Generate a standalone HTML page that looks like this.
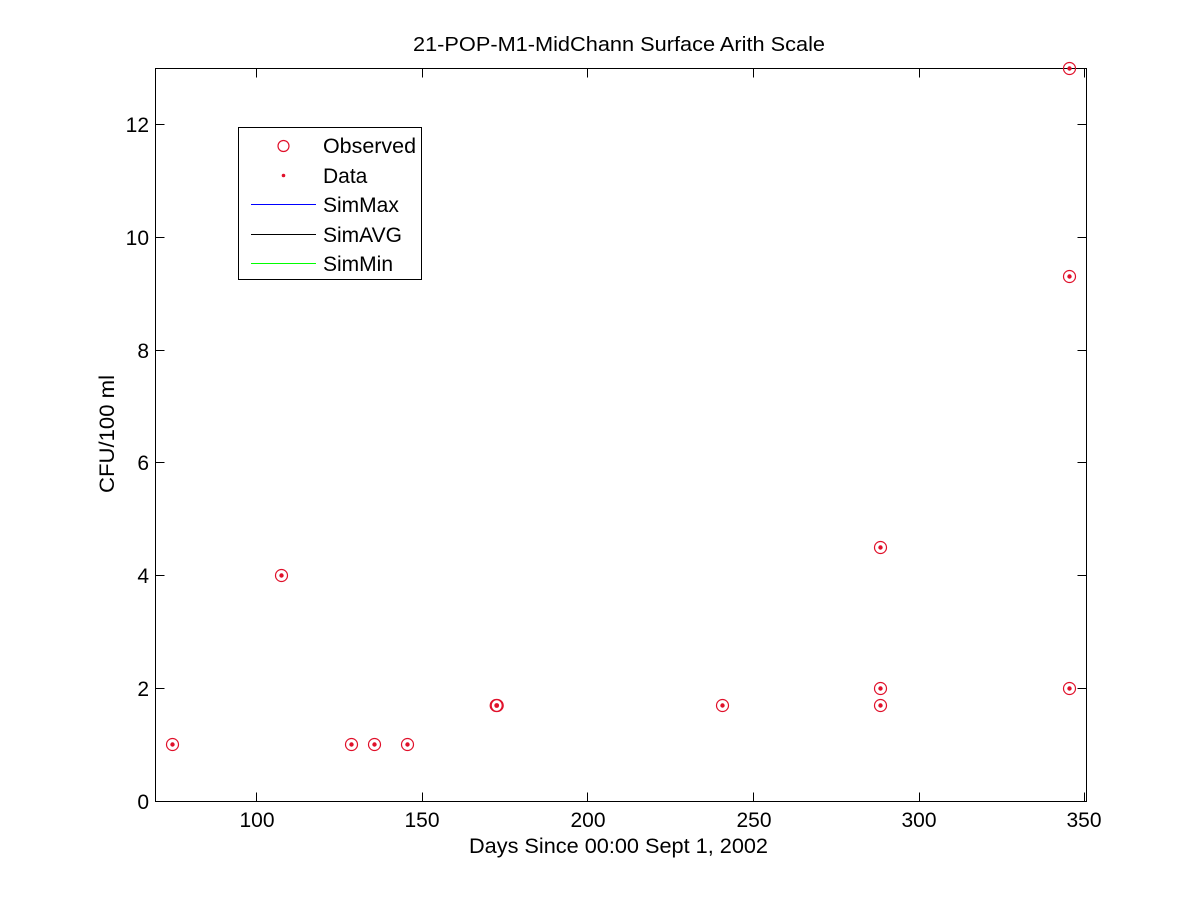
<!DOCTYPE html>
<html><head><meta charset="utf-8"><style>
html,body{margin:0;padding:0;background:#fff;}
svg{display:block;}
text{font-family:"Liberation Sans",Arial,sans-serif;fill:#000;}
</style></head><body>
<svg width="1200" height="900" viewBox="0 0 1200 900" xmlns="http://www.w3.org/2000/svg">
<rect x="0" y="0" width="1200" height="900" fill="#fff"/>
<!-- axes box -->
<rect x="155.5" y="68.5" width="931" height="733" fill="#fff" stroke="#000" stroke-width="1"/>
<!-- x ticks -->
<g stroke="#000" stroke-width="1">
<line x1="256.5" y1="801.5" x2="256.5" y2="792.5"/><line x1="256.5" y1="68.5" x2="256.5" y2="77.5"/>
<line x1="422.5" y1="801.5" x2="422.5" y2="792.5"/><line x1="422.5" y1="68.5" x2="422.5" y2="77.5"/>
<line x1="587.5" y1="801.5" x2="587.5" y2="792.5"/><line x1="587.5" y1="68.5" x2="587.5" y2="77.5"/>
<line x1="753.5" y1="801.5" x2="753.5" y2="792.5"/><line x1="753.5" y1="68.5" x2="753.5" y2="77.5"/>
<line x1="919.5" y1="801.5" x2="919.5" y2="792.5"/><line x1="919.5" y1="68.5" x2="919.5" y2="77.5"/>
<line x1="1084.5" y1="801.5" x2="1084.5" y2="792.5"/><line x1="1084.5" y1="68.5" x2="1084.5" y2="77.5"/>
<!-- y ticks -->
<line x1="155.5" y1="688.5" x2="164.5" y2="688.5"/><line x1="1086.5" y1="688.5" x2="1077.5" y2="688.5"/>
<line x1="155.5" y1="575.5" x2="164.5" y2="575.5"/><line x1="1086.5" y1="575.5" x2="1077.5" y2="575.5"/>
<line x1="155.5" y1="462.5" x2="164.5" y2="462.5"/><line x1="1086.5" y1="462.5" x2="1077.5" y2="462.5"/>
<line x1="155.5" y1="350.5" x2="164.5" y2="350.5"/><line x1="1086.5" y1="350.5" x2="1077.5" y2="350.5"/>
<line x1="155.5" y1="237.5" x2="164.5" y2="237.5"/><line x1="1086.5" y1="237.5" x2="1077.5" y2="237.5"/>
<line x1="155.5" y1="124.5" x2="164.5" y2="124.5"/><line x1="1086.5" y1="124.5" x2="1077.5" y2="124.5"/>
</g>
<!-- x tick labels -->
<g font-size="21" text-anchor="middle">
<text x="257" y="827">100</text>
<text x="422" y="827">150</text>
<text x="588" y="827">200</text>
<text x="754" y="827">250</text>
<text x="919" y="827">300</text>
<text x="1084" y="827">350</text>
</g>
<!-- y tick labels -->
<g font-size="21" text-anchor="end">
<text x="149" y="809">0</text>
<text x="149" y="696">2</text>
<text x="149" y="583">4</text>
<text x="149" y="470">6</text>
<text x="149" y="358">8</text>
<text x="149" y="245">10</text>
<text x="149" y="132">12</text>
</g>
<!-- title and labels -->
<text x="413" y="51" font-size="20" textLength="412" lengthAdjust="spacingAndGlyphs">21-POP-M1-MidChann Surface Arith Scale</text>
<text x="469" y="853" font-size="21" textLength="299" lengthAdjust="spacingAndGlyphs">Days Since 00:00 Sept 1, 2002</text>
<text transform="translate(114,493) rotate(-90)" font-size="21" textLength="118" lengthAdjust="spacingAndGlyphs">CFU/100 ml</text>
<!-- data points -->
<g fill="none" stroke="#e0102a" stroke-width="1.2">
<circle cx="172.5" cy="744.5" r="6"/>
<circle cx="281.5" cy="575.5" r="6"/>
<circle cx="351.5" cy="744.5" r="6"/>
<circle cx="374.5" cy="744.5" r="6"/>
<circle cx="407.5" cy="744.5" r="6"/>
<circle cx="496.2" cy="705.5" r="6"/>
<circle cx="497.2" cy="705.5" r="6"/>
<circle cx="722.5" cy="705.5" r="6"/>
<circle cx="880.5" cy="547.5" r="6"/>
<circle cx="880.5" cy="688.5" r="6"/>
<circle cx="880.5" cy="705.5" r="6"/>
<circle cx="1069.5" cy="68.5" r="6"/>
<circle cx="1069.5" cy="276.5" r="6"/>
<circle cx="1069.5" cy="688.5" r="6"/>
</g>
<g fill="#e0102a">
<circle cx="172.5" cy="744.5" r="2.2"/>
<circle cx="281.5" cy="575.5" r="2.2"/>
<circle cx="351.5" cy="744.5" r="2.2"/>
<circle cx="374.5" cy="744.5" r="2.2"/>
<circle cx="407.5" cy="744.5" r="2.2"/>
<circle cx="496.7" cy="705.5" r="2.4"/>
<circle cx="722.5" cy="705.5" r="2.2"/>
<circle cx="880.5" cy="547.5" r="2.2"/>
<circle cx="880.5" cy="688.5" r="2.2"/>
<circle cx="880.5" cy="705.5" r="2.2"/>
<circle cx="1069.5" cy="68.5" r="2.2"/>
<circle cx="1069.5" cy="276.5" r="2.2"/>
<circle cx="1069.5" cy="688.5" r="2.2"/>
</g>
<!-- legend -->
<rect x="238.5" y="127.5" width="183" height="152" fill="#fff" stroke="#000" stroke-width="1"/>
<circle cx="283.5" cy="146" r="5.5" fill="none" stroke="#e0102a" stroke-width="1.2"/>
<circle cx="283.5" cy="175.5" r="1.8" fill="#e0102a"/>
<line x1="251" y1="204.5" x2="316" y2="204.5" stroke="#0000ff" stroke-width="1"/>
<line x1="251" y1="234.5" x2="316" y2="234.5" stroke="#000" stroke-width="1"/>
<line x1="251" y1="263.5" x2="316" y2="263.5" stroke="#00ff00" stroke-width="1"/>
<g font-size="21">
<text x="323" y="153" textLength="93" lengthAdjust="spacingAndGlyphs">Observed</text>
<text x="323" y="183">Data</text>
<text x="323" y="212">SimMax</text>
<text x="323" y="242">SimAVG</text>
<text x="323" y="271">SimMin</text>
</g>
</svg>
</body></html>
